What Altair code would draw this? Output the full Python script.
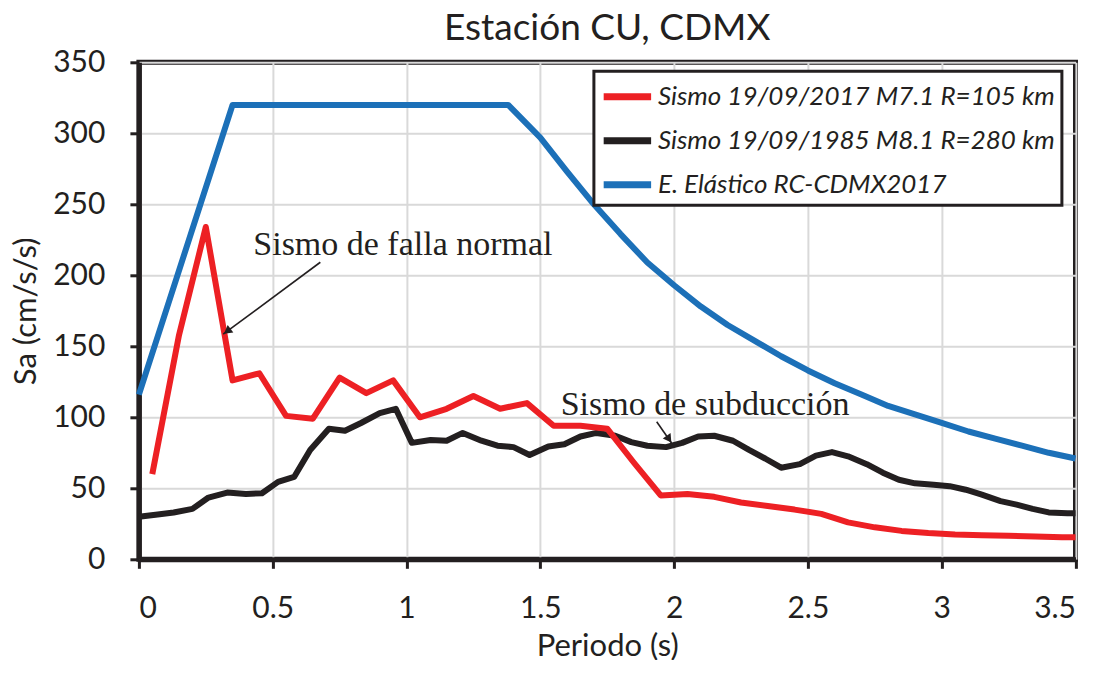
import altair as alt
import pandas as pd

# ---- data ----
lab_2017 = "Sismo 19/09/2017 M7.1 R=105 km"
lab_1985 = "Sismo 19/09/1985 M8.1 R=280 km"
lab_ela = "E. Elástico RC-CDMX2017"

t_2017 = [0.05, 0.15, 0.25, 0.35, 0.45, 0.55, 0.65, 0.75, 0.85, 0.95, 1.05, 1.15, 1.25, 1.35,
          1.45, 1.55, 1.65, 1.75, 1.85, 1.95, 2.05, 2.15, 2.25, 2.35, 2.45, 2.55, 2.65, 2.75,
          2.85, 2.95, 3.05, 3.15, 3.25, 3.35, 3.45, 3.5]
sa_2017 = [60, 158, 234, 126, 131, 101, 99, 128, 117, 126, 100, 106, 115, 106,
           110, 94, 94, 92, 68, 45, 46, 44, 40, 37.5, 35, 32, 26, 22.5,
           20, 18.5, 17.5, 17, 16.5, 16, 15.5, 15.5]

t_1985 = [0, 0.07, 0.13, 0.2, 0.26, 0.33, 0.4, 0.46, 0.52, 0.58, 0.64, 0.71, 0.77, 0.83, 0.9,
          0.96, 1.02, 1.09, 1.15, 1.21, 1.28, 1.34, 1.4, 1.46, 1.53, 1.59, 1.65, 1.71, 1.78,
          1.84, 1.9, 1.97, 2.03, 2.09, 2.15, 2.22, 2.28, 2.34, 2.4, 2.47, 2.53, 2.59, 2.65,
          2.72, 2.78, 2.84, 2.9, 2.97, 3.03, 3.09, 3.15, 3.22, 3.28, 3.34, 3.4, 3.47, 3.5]
sa_1985 = [30, 31.5, 33, 35.5, 43.5, 47, 46, 46.5, 54.5, 58, 77, 92, 90.5, 96, 103,
           106, 82, 84, 83.5, 89, 83.5, 80, 79, 73.5, 79.5, 81, 86.5, 89, 87,
           82.5, 80, 79, 82, 86.5, 87, 83.5, 77, 71, 64.5, 67, 73, 75.5, 72.5,
           67, 61, 56, 53.5, 52.5, 51.5, 49, 45.5, 41, 38.5, 35.5, 33, 32.5, 32.5]

t_ela = [0, 0.35, 1.38, 1.5, 1.6, 1.7, 1.8, 1.9, 2.0, 2.1, 2.2, 2.3, 2.4, 2.5, 2.6, 2.7,
         2.8, 2.9, 3.0, 3.1, 3.2, 3.3, 3.4, 3.5]
sa_ela = [116, 320, 320, 297, 273, 250, 229, 209, 193, 178, 165, 154, 143, 133, 124, 116,
          108, 102, 96, 90, 85, 80, 75, 71]

series_order = [lab_2017, lab_1985, lab_ela]
series_colors = ["#ED2024", "#231F20", "#1C70B8"]

ann_text = ["Sismo de falla normal", "Sismo de subducción"]
ann_x = [0.4275, 1.576]
ann_y = [214.3, 101.6]

arrow_x = [0.678, 1.935]
arrow_y = [209.2, 96.9]
arrow_x2 = [0.315, 1.991]
arrow_y2 = [158.5, 81.7]
head_x = [0.330, 1.981]
head_y = [160.6, 84.6]
head_angle = [233.3, 145.2]

# ---- tables ----
rows = []
for lab, ts, vs in [(lab_1985, t_1985, sa_1985), (lab_ela, t_ela, sa_ela), (lab_2017, t_2017, sa_2017)]:
    for t, v in zip(ts, vs):
        rows.append({"T": t, "Sa": v, "serie": lab})
df = pd.DataFrame(rows)

ann_df = pd.DataFrame({"x": ann_x, "y": ann_y, "txt": ann_text})
arr_df = pd.DataFrame({"x": arrow_x, "y": arrow_y, "x2": arrow_x2, "y2": arrow_y2})
head_df = pd.DataFrame({"x": head_x, "y": head_y, "ang": head_angle})

xscale = alt.Scale(domain=[0, 3.5], nice=False, zero=False)
yscale = alt.Scale(domain=[0, 350], nice=False)

xaxis = alt.Axis(values=[0, 0.5, 1, 1.5, 2, 2.5, 3, 3.5], format="~g", title="Periodo (s)")
yaxis = alt.Axis(values=[0, 50, 100, 150, 200, 250, 300, 350], title="Sa (cm/s/s)")

lines = alt.Chart(df).mark_line(strokeWidth=6, strokeJoin="round").encode(
    x=alt.X("T:Q", scale=xscale, axis=xaxis),
    y=alt.Y("Sa:Q", scale=yscale, axis=yaxis),
    color=alt.Color("serie:N",
                    scale=alt.Scale(domain=series_order, range=series_colors),
                    sort=series_order,
                    legend=alt.Legend(orient="none", legendX=455, legendY=9, title=None,
                                      direction="vertical", fillColor="white",
                                      strokeColor="#231F20", padding=6,
                                      symbolType="M-1.5,0H1.5", symbolStrokeWidth=7,
                                      symbolSize=1000, symbolOffset=8, labelFont="Lato",
                                      labelFontStyle="italic", labelFontSize=26,
                                      labelColor="#231F20", rowPadding=10, labelOffset=11,
                                      labelLimit=600)),
)

texts = alt.Chart(ann_df).mark_text(font="Liberation Serif", fontSize=34, align="left",
                                    baseline="alphabetic", color="#231F20").encode(
    x=alt.X("x:Q", scale=xscale), y=alt.Y("y:Q", scale=yscale), text="txt:N")

arrows = alt.Chart(arr_df).mark_rule(strokeWidth=1.6, color="#231F20").encode(
    x=alt.X("x:Q", scale=xscale), y=alt.Y("y:Q", scale=yscale),
    x2="x2:Q", y2="y2:Q")

heads = alt.Chart(head_df).mark_point(shape="triangle-up", filled=True, size=90,
                                      color="#231F20", opacity=1).encode(
    x=alt.X("x:Q", scale=xscale), y=alt.Y("y:Q", scale=yscale),
    angle=alt.Angle("ang:Q", scale=None))

chart = alt.layer(lines, arrows, heads, texts).properties(
    width=936.6, height=497,
    title=alt.TitleParams("Estación CU, CDMX", font="Lato", fontSize=37,
                          fontWeight="normal", color="#231F20", offset=-1),
    autosize=alt.AutoSizeParams(type="none"),
    padding={"left": 130.9, "top": 54.3, "right": 10, "bottom": 101},
).configure_axis(
    labelFont="Lato", labelFontSize=30, labelColor="#231F20",
    titleFont="Lato", titleFontSize=31, titleFontWeight="normal", titleColor="#231F20",
    gridColor="#D9D9D9", gridWidth=2,
    domainColor="#231F20", domainWidth=5,
    tickColor="#231F20", tickWidth=3, tickSize=9,
    labelPadding=25,
).configure_axisX(titlePadding=8).configure_axisY(titlePadding=10).configure_view(
    stroke="#231F20", strokeWidth=5
).configure_legend(strokeWidth=3)

chart.save("out.html", embed_options={"renderer": "svg", "actions": False})
